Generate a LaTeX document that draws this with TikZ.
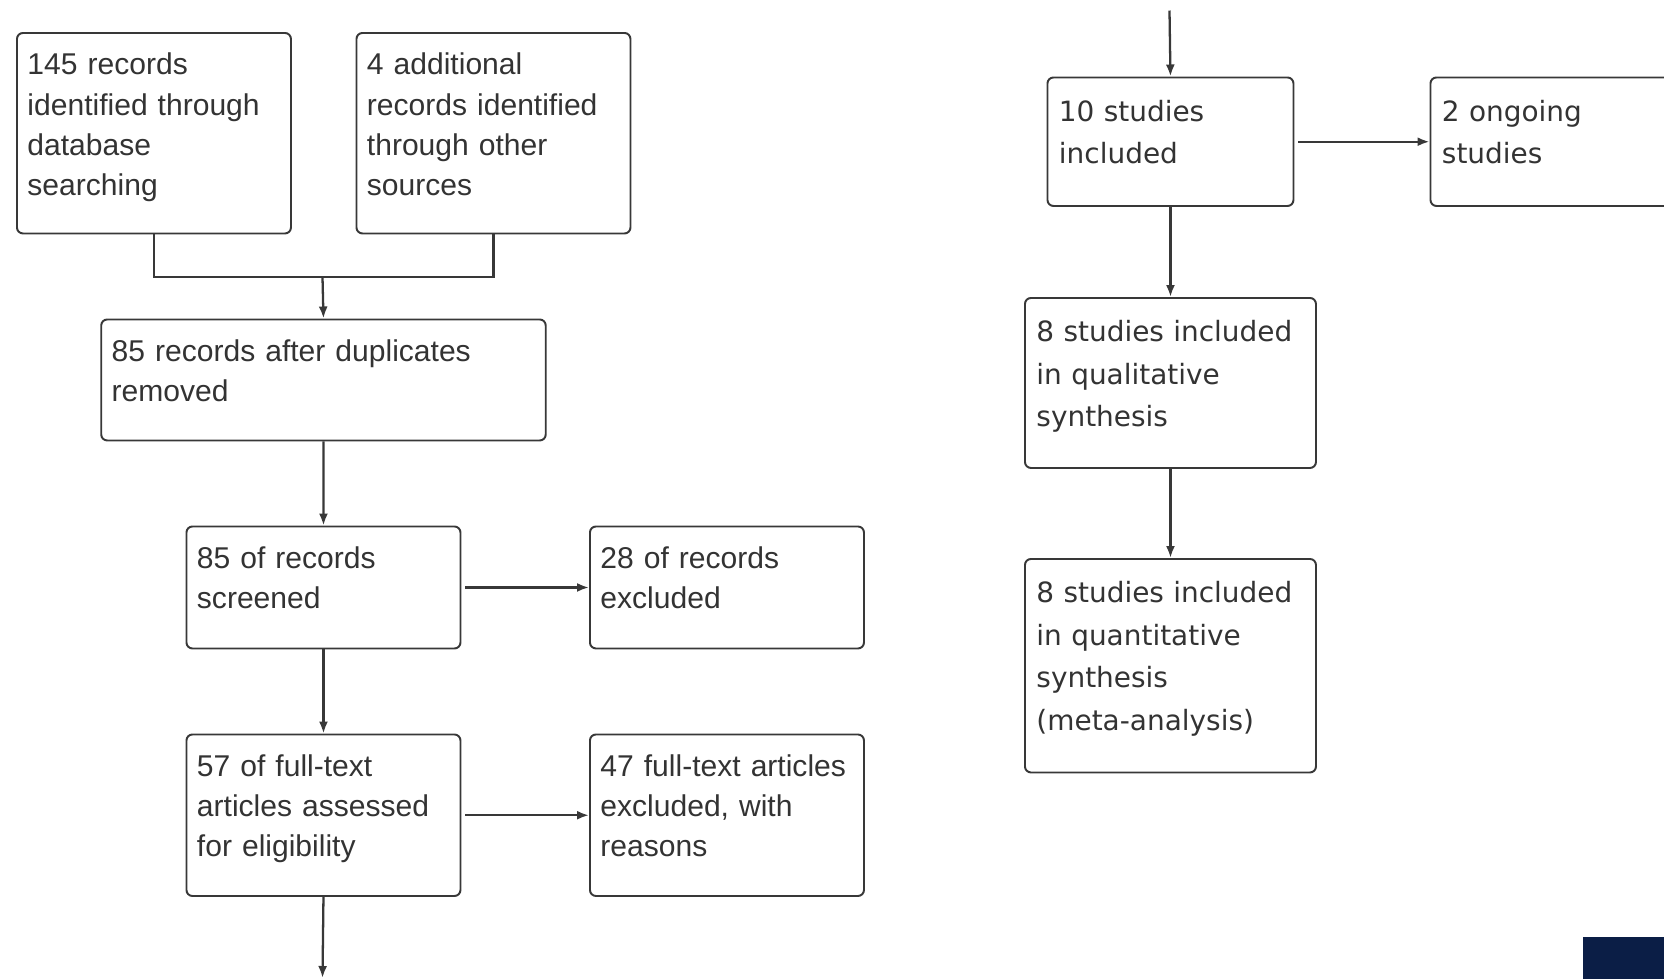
\documentclass[tikz,border=0pt]{standalone}
\usepackage{fontspec}
\usetikzlibrary{arrows.meta}
\newfontfamily\flowleft{Liberation Sans}
\newfontfamily\flowright{DejaVu Sans}
\definecolor{flowline}{RGB}{56,56,56}
\definecolor{flowtext}{RGB}{51,51,51}
\definecolor{cornernavy}{RGB}{11,30,70}
\begin{document}
\begin{tikzpicture}[
        stage/.style = {draw = flowline, line width = 1.1pt, rounded corners = 0.12cm, anchor = north west,
            align = left, inner ysep = 0pt, text = flowtext},
        leftstage/.style = {stage, inner xsep = 0.21cm, text width = 5.06cm, text height = 0.84cm,
            font = \flowleft\fontsize{17.1}{22.9}\selectfont},
        widestage/.style = {leftstage, text width = 8.47cm},
        rightstage/.style = {stage, inner xsep = 0.23cm, text height = 0.88cm,
            font = \flowright\fontsize{15.9}{24.1}\selectfont},
        flow/.style = {draw = flowline, line width = 1.3pt, -{Latex[length = 2.4mm, width = 1.8mm]}},
        mergeline/.style = {draw = flowline, line width = 1.3pt}]
    \path[use as bounding box, clip] (0, 0) rectangle (33.28, -19.56);
        \node[leftstage, text depth = 3.17cm] (ident) at (0.32, -0.64)
            {145 records\\identified through\\database\\searching};
        \node[leftstage, text depth = 3.17cm] (other) at (7.11, -0.64)
            {4 additional\\records identified\\through other\\sources};
        \node[widestage, text depth = 1.58cm] (dedup) at (2.005, -6.37)
            {85 records after duplicates\\removed};
        \coordinate (merge) at (6.45, -5.54);
        \draw[mergeline] (ident.south) |- (merge) -| (other.south);
        \draw[flow] (merge) -- (dedup.north);
        \node[leftstage, text depth = 1.60cm] (screen) at (3.71, -10.51)
            {85 of records\\screened};
        \node[leftstage, text depth = 1.60cm] (screenout) at (11.78, -10.51)
            {28 of records\\excluded};
        \draw[flow] (dedup.south) -- (screen.north);
        \draw[flow] ([xshift = 0.08cm]screen.east) -- (screenout.west);
        \node[leftstage, text depth = 2.39cm] (fulltext) at (3.71, -14.67)
            {57 of full-text\\articles assessed\\for eligibility};
        \node[leftstage, text depth = 2.39cm] (fulltextout) at (11.78, -14.67)
            {47 full-text articles\\excluded, with\\reasons};
        \draw[flow] (screen.south) -- (fulltext.north);
        \draw[flow] ([xshift = 0.08cm]fulltext.east) -- (fulltextout.west);
        \coordinate (leftend) at (6.45, -19.56);
        \draw[flow] (fulltext.south) -- (leftend);
    % second column
        \coordinate (rightstart) at (23.39, -0.21);
        \node[rightstage, text width = 4.46cm, text depth = 1.69cm] (included) at (20.93, -1.53)
            {10 studies\\included};
        \node[rightstage, text width = 4.46cm, text depth = 1.69cm] (ongoing) at (28.59, -1.53)
            {2 ongoing\\studies};
        \draw[flow] (rightstart) -- (included.north);
        \draw[flow] ([xshift = 0.08cm]included.east) -- (ongoing.west);
        \node[rightstage, text width = 5.36cm, text depth = 2.52cm] (qualitative) at (20.48, -5.94)
            {8 studies included\\in qualitative\\synthesis};
        \node[rightstage, text width = 5.36cm, text depth = 3.39cm] (quantitative) at (20.48, -11.16)
            {8 studies included\\in quantitative\\synthesis\\(meta-analysis)};
        \draw[flow] (included.south) -- (qualitative.north);
        \draw[flow] (qualitative.south) -- (quantitative.north);
        \fill[cornernavy] (31.66, -18.74) rectangle (33.4, -19.7);
\end{tikzpicture}
\end{document}
